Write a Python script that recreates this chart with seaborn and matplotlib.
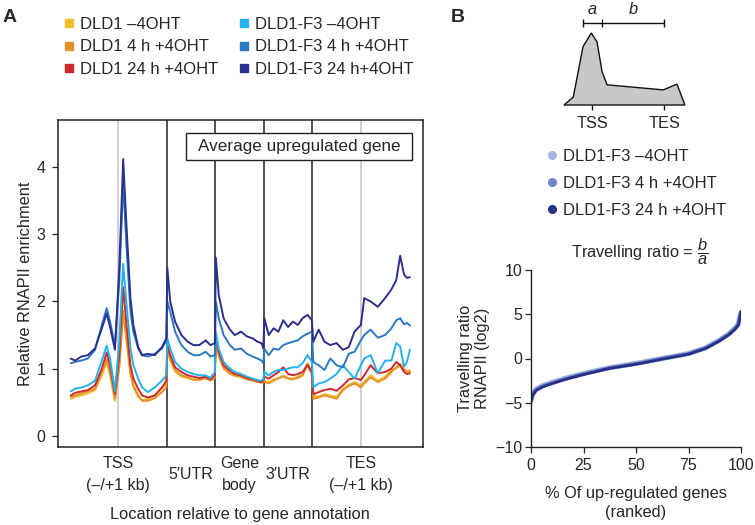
import pandas as pd
import seaborn as sns
import matplotlib.pyplot as plt
from matplotlib.lines import Line2D
from matplotlib.patches import Rectangle

# ---- Panel A: meta-gene RNAPII profile (x in region units, 1 unit = one annotation block)
position = [0.27, 0.36, 0.49, 0.62, 0.77, 0.91, 1.01, 1.08, 1.18, 1.27, 1.35, 1.42, 1.5, 1.56, 1.66, 1.74, 1.86, 2.0, 2.15, 2.24,
            2.26, 2.32, 2.42, 2.55, 2.68, 2.8, 2.92, 3.05, 3.15, 3.24,
            3.26, 3.32, 3.42, 3.55, 3.65, 3.78, 3.9, 4.02, 4.12, 4.2, 4.24,
            4.26, 4.35, 4.45, 4.55, 4.65, 4.75, 4.85, 4.95, 5.05, 5.15, 5.24,
            5.27, 5.38, 5.5, 5.62, 5.75, 5.88, 6.0, 6.12, 6.25, 6.32, 6.45, 6.6, 6.75, 6.88, 6.98, 7.06, 7.14, 7.2, 7.26]

dld1_minus = [0.55, 0.58, 0.6, 0.63, 0.68, 0.9, 1.09, 0.9, 0.52, 1.0, 1.82, 1.4, 0.9, 0.72, 0.58, 0.53, 0.55, 0.6, 0.7, 0.78,
              1.28, 1.12, 0.96, 0.88, 0.86, 0.83, 0.84, 0.85, 0.83, 0.88,
              1.42, 1.18, 1.0, 0.92, 0.89, 0.87, 0.85, 0.83, 0.81, 0.8, 0.81,
              0.82, 0.8, 0.84, 0.85, 0.9, 0.86, 0.85, 0.88, 0.92, 1.08, 0.94,
              0.6, 0.58, 0.62, 0.6, 0.58, 0.7, 0.76, 0.8, 0.75, 0.8, 0.9, 0.82, 0.88, 0.98, 1.0, 1.05, 1.0, 0.95, 0.98]
dld1_4h = [0.58, 0.6, 0.63, 0.66, 0.7, 0.95, 1.14, 0.95, 0.55, 1.05, 1.86, 1.45, 0.95, 0.75, 0.6, 0.52, 0.52, 0.56, 0.65, 0.72,
           1.3, 1.15, 0.98, 0.9, 0.87, 0.84, 0.83, 0.86, 0.82, 0.86,
           1.45, 1.2, 1.02, 0.93, 0.9, 0.88, 0.84, 0.82, 0.8, 0.79, 0.8,
           0.8, 0.78, 0.82, 0.86, 0.88, 0.85, 0.84, 0.86, 0.9, 1.05, 0.92,
           0.55, 0.57, 0.6, 0.58, 0.55, 0.68, 0.74, 0.78, 0.72, 0.78, 0.87, 0.8, 0.85, 0.95, 1.02, 1.07, 0.98, 0.96, 0.95]
dld1_24h = [0.6, 0.64, 0.66, 0.68, 0.75, 1.0, 1.24, 1.05, 0.62, 1.2, 2.21, 1.65, 1.05, 0.85, 0.7, 0.6, 0.57, 0.6, 0.72, 0.82,
            1.35, 1.2, 1.02, 0.95, 0.9, 0.88, 0.86, 0.88, 0.84, 0.9,
            1.5, 1.25, 1.05, 0.97, 0.92, 0.9, 0.86, 0.84, 0.82, 0.8, 0.82,
            0.88, 0.85, 0.9, 0.95, 1.02, 0.92, 0.9, 0.92, 0.95, 1.06, 0.95,
            0.62, 0.65, 0.68, 0.7, 0.67, 0.75, 0.84, 0.86, 0.83, 0.9, 1.05, 0.93, 0.95, 1.0, 1.1, 1.05, 0.95, 0.92, 0.93]
f3_minus = [0.66, 0.7, 0.72, 0.75, 0.82, 1.12, 1.34, 1.15, 0.66, 1.4, 2.56, 1.95, 1.3, 1.05, 0.85, 0.72, 0.65, 0.72, 0.82, 0.9,
            1.45, 1.3, 1.1, 1.0, 0.95, 0.92, 0.9, 0.9, 0.86, 0.95,
            1.55, 1.3, 1.1, 1.0, 0.95, 0.92, 0.88, 0.85, 0.83, 0.82, 0.84,
            0.95, 0.9, 0.95, 0.98, 0.98, 1.0, 1.02, 1.02, 1.08, 1.2, 1.1,
            0.72, 0.78, 0.8, 0.85, 0.92, 1.05, 0.95, 0.85, 1.05, 1.15, 1.2, 0.93, 1.12, 1.12, 1.38, 1.33, 1.03, 1.1, 1.28]
f3_4h = [1.08, 1.1, 1.12, 1.15, 1.28, 1.65, 1.9, 1.7, 1.34, 2.3, 3.78, 2.8, 1.85, 1.55, 1.3, 1.2, 1.18, 1.22, 1.3, 1.42,
         2.0, 1.85, 1.55, 1.35, 1.25, 1.2, 1.2, 1.25, 1.18, 1.2,
         2.0, 1.75, 1.5, 1.35, 1.28, 1.3, 1.22, 1.18, 1.15, 1.12, 1.08,
         1.3, 1.2, 1.3, 1.28, 1.35, 1.38, 1.4, 1.42, 1.48, 1.52, 1.55,
         1.1, 1.05, 0.98, 1.15, 1.05, 1.02, 1.22, 1.25, 1.42, 1.5, 1.58, 1.46, 1.5, 1.6, 1.72, 1.75, 1.66, 1.68, 1.64]
f3_24h = [1.15, 1.12, 1.18, 1.2, 1.3, 1.6, 1.82, 1.62, 1.28, 2.5, 4.12, 3.1, 2.05, 1.65, 1.32, 1.2, 1.22, 1.2, 1.32, 1.45,
          2.5, 2.0, 1.7, 1.5, 1.4, 1.35, 1.35, 1.42, 1.35, 1.38,
          2.65, 2.1, 1.75, 1.58, 1.5, 1.55, 1.48, 1.45, 1.4, 1.38, 1.3,
          1.75, 1.5, 1.6, 1.55, 1.72, 1.62, 1.7, 1.65, 1.75, 1.8, 1.72,
          1.4, 1.58, 1.4, 1.35, 1.38, 1.28, 1.32, 1.55, 1.65, 2.05, 2.0, 1.92, 2.05, 2.18, 2.32, 2.68, 2.4, 2.35, 2.36]

samples_a = ['DLD1 \u20134OHT', 'DLD1 4 h +4OHT', 'DLD1 24 h +4OHT',
             'DLD1-F3 \u20134OHT', 'DLD1-F3 4 h +4OHT', 'DLD1-F3 24 h+4OHT']
colors_a = ['#F2BE2C', '#E5902B', '#D0282B', '#25B2EC', '#2A78C2', '#2B2F8E']

region_centres = [1.25, 2.75, 3.75, 4.75, 6.25]
region_labels = ['TSS\n(\u2013/+1 kb)', '5\u2032UTR', 'Gene\nbody', '3\u2032UTR', 'TES\n(\u2013/+1 kb)']
region_borders = [2.25, 3.25, 4.25, 5.25]

# ---- Panel B: travelling ratio of up-regulated genes, ranked
ranked_pct = [0, 0.8, 2.4, 5.5, 10, 16.5, 25, 37, 50, 64, 75, 83, 89, 94, 97, 98.7, 99.5, 100]
tr_f3_minus = [-4.7, -4.0, -3.45, -3.05, -2.7, -2.22, -1.7, -1.05, -0.55, 0.08, 0.56, 1.2, 1.98, 2.75, 3.4, 3.9, 4.8, 5.2]
tr_f3_4h = [-4.8, -4.1, -3.55, -3.15, -2.78, -2.3, -1.76, -1.1, -0.6, 0.04, 0.52, 1.16, 1.93, 2.7, 3.34, 3.83, 4.75, 5.25]
tr_f3_24h = [-4.9, -4.15, -3.6, -3.2, -2.83, -2.34, -1.81, -1.13, -0.64, 0.0, 0.49, 1.13, 1.89, 2.64, 3.28, 3.77, 4.7, 5.3]
samples_b = ['DLD1-F3 \u20134OHT', 'DLD1-F3 4 h +4OHT', 'DLD1-F3 24 h +4OHT']
colors_b = ['#A6B6DF', '#6D88C8', '#272F88']

# schematic RNAPII profile (TSS = 0, TES = 1)
profile_pos = [-0.39, -0.26, -0.125, -0.01, 0.07, 0.14, 0.21, 0.99, 1.18, 1.29]
profile_height = [0, 0.11, 0.81, 1.0, 0.875, 0.46, 0.28, 0.21, 0.29, 0]

sns.set_style("ticks")
plt.rcParams['font.family'] = ['Liberation Sans', 'DejaVu Sans']
plt.rcParams['mathtext.fontset'] = 'custom'
plt.rcParams['mathtext.rm'] = 'Liberation Sans'
plt.rcParams['mathtext.it'] = 'Liberation Sans:italic'
FS = 11.8      # labels
FS_LEG = 12    # legends
FS_TICK = 11.5

fig = plt.figure(figsize=(7.55, 5.25), dpi=100)

# ---------------- Panel A ----------------
axA = fig.add_axes([0.0764, 0.149, 0.4838, 0.6222])
df_a = pd.DataFrame({
    'position': position * 6,
    'enrichment': dld1_minus + dld1_4h + dld1_24h + f3_minus + f3_4h + f3_24h,
    'sample': [s for s in samples_a for _ in position],
})
sns.lineplot(data=df_a, x='position', y='enrichment', hue='sample', hue_order=samples_a,
             palette=dict(zip(samples_a, colors_a)), estimator=None, linewidth=1.4,
             legend=False, ax=axA, zorder=3)
for b in region_borders:
    axA.axvline(b, color='#222222', lw=1.1, zorder=2)
axA.axvline(region_centres[0], color='#C8C8C8', lw=1.2, zorder=1)
axA.axvline(region_centres[-1], color='#C8C8C8', lw=1.2, zorder=1)
axA.set_xlim(0, 7.53)
axA.set_ylim(-0.164, 4.70)
axA.set_yticks([0, 1, 2, 3, 4])
axA.set_xticks(region_centres)
axA.set_xticklabels(region_labels, fontsize=FS_TICK, va='center', linespacing=1.55)
axA.tick_params(axis='x', length=0, pad=20)
axA.tick_params(axis='y', length=4.3, width=0.9, pad=4.5, labelsize=FS_TICK, direction='out')
for sp in axA.spines.values():
    sp.set_linewidth(1.1)
    sp.set_color('#222222')
axA.set_xlabel('Location relative to gene annotation', fontsize=FS, labelpad=10)
axA.set_ylabel('Relative RNAPII enrichment', fontsize=FS, labelpad=2.5)
axA.add_patch(Rectangle((0.351, 0.878), 0.619, 0.082, transform=axA.transAxes,
                        facecolor='white', edgecolor='#222222', lw=1.0, zorder=5))
axA.text(0.6605, 0.919, 'Average upregulated gene', transform=axA.transAxes,
         ha='center', va='center', fontsize=12.3, zorder=6)

handles_a = [Line2D([], [], ls='', marker='s', markersize=5.5, color=c) for c in colors_a]
fig.legend(handles_a, samples_a, loc='upper left', bbox_to_anchor=(0.064, 0.997), ncol=2,
           frameon=False, fontsize=FS_LEG, handlelength=0.7, handletextpad=0.3,
           labelspacing=0.47, columnspacing=1.2, borderpad=0.4)

# ---------------- Panel B schematic ----------------
axS = fig.add_axes([555 / 755, 1 - 130 / 525, 140 / 755, 130 / 525])
axS.fill(profile_pos, profile_height, facecolor='#C8C8C8', edgecolor='#111111', lw=1.0)
axS.vlines([0, 1], -0.07, 0, color='#111111', lw=1.0)
axS.text(0, -0.25, 'TSS', ha='center', va='center', fontsize=FS)
axS.text(1.01, -0.25, 'TES', ha='center', va='center', fontsize=FS)
axS.hlines(1.139, -0.125, 1.0, color='#111111', lw=1.0)
axS.vlines([-0.125, 0.14, 1.0], 1.083, 1.194, color='#111111', lw=1.0)
axS.text(0.007, 1.33, 'a', style='italic', ha='center', va='center', fontsize=FS)
axS.text(0.57, 1.33, 'b', style='italic', ha='center', va='center', fontsize=FS)
axS.set_xlim(-0.514, 1.43)
axS.set_ylim(-0.347, 1.458)
axS.axis('off')

handles_b = [Line2D([], [], ls='', marker='o', markersize=5.5, color=c) for c in colors_b]
fig.legend(handles_b, samples_b, loc='upper left', bbox_to_anchor=(0.704, 0.7455),
           frameon=False, fontsize=FS_LEG, handlelength=0.7, handletextpad=0.3,
           labelspacing=0.74, borderpad=0.4)

# ---------------- Panel B travelling ratio ----------------
axB = fig.add_axes([531 / 755, 1 - 447 / 525, 210 / 755, 177 / 525])
for vals, col, lw in zip([tr_f3_minus, tr_f3_4h, tr_f3_24h], colors_b, [3.6, 2.8, 2.0]):
    sns.lineplot(x=ranked_pct, y=vals, color=col, linewidth=lw, ax=axB, estimator=None)
axB.set_xlim(0, 100)
axB.set_ylim(-10, 10)
axB.set_xticks([0, 25, 50, 75, 100])
axB.set_yticks([-10, -5, 0, 5, 10])
axB.tick_params(length=4, width=0.9, labelsize=FS_TICK, direction='out')
axB.tick_params(axis='y', pad=2)
axB.tick_params(axis='x', pad=4)
sns.despine(ax=axB)
for sp in axB.spines.values():
    sp.set_linewidth(1.0)
    sp.set_color('#222222')
axB.set_xlabel('% Of up-regulated genes\n(ranked)', fontsize=FS, labelpad=9, linespacing=1.35)
axB.set_ylabel('Travelling ratio\nRNAPII (log2)', fontsize=FS, labelpad=4)
fig.text(640 / 755, 1 - 252 / 525, r'Travelling ratio = $\dfrac{b}{a}$', ha='center', va='center', fontsize=FS)

fig.text(10 / 755, 1 - 18 / 525, 'A', fontsize=14, fontweight='bold', ha='center', va='center')
fig.text(458 / 755, 1 - 18 / 525, 'B', fontsize=14, fontweight='bold', ha='center', va='center')

fig.savefig('out.png', dpi=100)
